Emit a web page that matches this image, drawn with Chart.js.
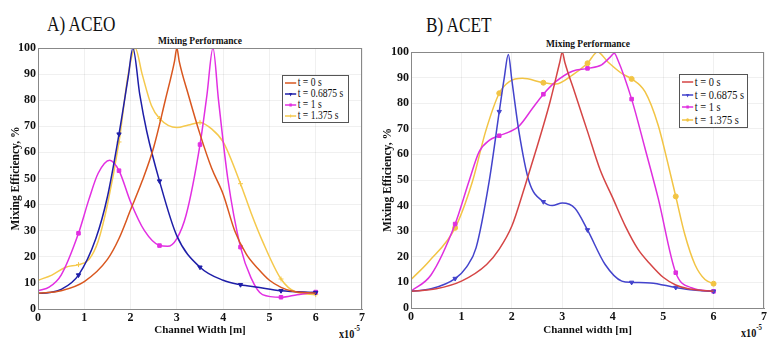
<!DOCTYPE html>
<html>
<head>
<meta charset="utf-8">
<script src="https://cdn.jsdelivr.net/npm/chart.js@4.4.0/dist/chart.umd.min.js"></script>
<style>
body{margin:0;background:#fff;width:778px;height:346px;position:relative;overflow:hidden;font-family:'Liberation Serif','Times New Roman',Times,serif;color:#111;}
.panel{position:absolute;top:0;height:346px;}
.tag{position:absolute;font-size:21px;white-space:nowrap;transform:scaleX(0.82);transform-origin:left top;}
.ptitle{position:absolute;font-size:11px;font-weight:bold;transform:translateX(-50%) scaleX(0.86);white-space:nowrap;}
.expo{position:absolute;font-size:12px;font-weight:bold;white-space:nowrap;transform:scaleX(0.85);transform-origin:left top;}
.expo sup{font-size:8px;position:relative;top:-2px;}
.legend{position:absolute;border:1px solid #555;background:#fff;padding:1px 3px 1px 2px;white-space:nowrap;overflow:visible;}
.legend .in{transform:scaleX(0.8);transform-origin:left top;width:max-content;}
.legend .row{display:flex;align-items:center;}
.legend svg{flex-shrink:0;margin-right:1px;}
</style>
</head>
<body>
<div class="tag" style="left:47px;top:12px;">A) ACEO</div>
<div class="tag" style="left:426px;top:13px;">B) ACET</div>
<div class="ptitle" style="left:200px;top:34px;">Mixing Performance</div>
<div class="ptitle" style="left:588px;top:37px;">Mixing Performance</div>
<div class="expo" style="left:339px;top:326px;">x10<sup>-5</sup></div>
<div class="expo" style="left:741px;top:325px;">x10<sup>-5</sup></div>

<div class="panel" style="left:0;width:389px;"><canvas id="aceo" width="389" height="346"></canvas></div>
<div class="panel" style="left:378px;width:400px;"><canvas id="acet" width="400" height="346"></canvas></div>
<div class="legend" id="legA" style="left:282px;top:75px;width:60px;font-size:12px;line-height:11px;"></div>
<div class="legend" id="legB" style="left:679px;top:74px;width:62px;font-size:13px;line-height:12.5px;"></div>

<script>
// series labels and marker positions
const labels = ['t = 0 s', 't = 0.6875 s', 't = 1 s', 't = 1.375 s'];
const markerX = [0.875, 1.75, 2.625, 3.5, 4.375, 5.25, 6];
const xTicks = [0, 1, 2, 3, 4, 5, 6, 7];
const yTicks = [0, 10, 20, 30, 40, 50, 60, 70, 80, 90, 100];

// A) ACEO
const aceoX0 = [0, 0.5, 1, 1.5, 1.75, 2, 2.25, 2.5, 2.75, 2.95, 3, 3.05, 3.25, 3.5, 3.75, 4, 4.25, 4.5, 4.75, 5, 5.25, 5.5, 6];
const aceoY0 = [6, 7, 10.5, 19, 27, 38, 49, 62, 80, 95, 100, 95, 82, 67, 54, 44, 30, 21, 15.5, 11, 8.3, 6.8, 6];
const aceoX1 = [0, 0.25, 0.5, 0.875, 1.25, 1.5, 1.75, 1.95, 2.05, 2.2, 2.35, 2.625, 3, 3.5, 4, 4.375, 4.75, 5.25, 6];
const aceoY1 = [6, 6.3, 7.5, 13, 27, 43, 67, 89, 100, 82, 68, 49, 28, 16, 11, 9.3, 8.3, 7, 6.3];
const aceoX2 = [0, 0.25, 0.5, 0.875, 1.1, 1.3, 1.55, 1.75, 2, 2.3, 2.625, 2.8, 3, 3.2, 3.5, 3.65, 3.78, 3.9, 4.1, 4.375, 4.6, 4.85, 5.25, 5.6, 6];
const aceoY2 = [7, 8.5, 13, 29, 42, 52, 57, 53, 41, 30, 24.3, 24, 27, 36, 63, 82, 100, 80, 50, 23.7, 12, 5.5, 4.5, 5.5, 6.5];
const aceoX3 = [0, 0.3, 0.6, 0.875, 1.1, 1.3, 1.5, 1.75, 1.95, 2.1, 2.25, 2.45, 2.625, 3, 3.25, 3.5, 3.75, 4, 4.375, 4.6, 4.85, 5.25, 5.57, 6];
const aceoY3 = [11, 13, 16, 17, 19, 26, 40, 64, 90, 100, 90, 78, 73, 69.5, 70.5, 71.5, 69, 64, 48, 37, 26, 11.5, 6.5, 5.5];

// B) ACET
const acetX0 = [0, 0.5, 1, 1.5, 1.75, 2, 2.25, 2.5, 2.75, 2.95, 3, 3.05, 3.25, 3.5, 3.75, 4, 4.25, 4.5, 4.75, 5, 5.25, 5.5, 6];
const acetY0 = [6.5, 7.5, 10.5, 17, 23, 32, 47, 63, 80, 96, 100, 96, 84, 69, 54, 43, 32, 23, 17, 12, 9, 7.5, 6.5];
const acetX1 = [0, 0.4, 0.875, 1.1, 1.29, 1.55, 1.75, 1.85, 1.93, 2, 2.14, 2.34, 2.625, 2.8, 3, 3.25, 3.5, 3.85, 4.18, 4.375, 4.75, 5.25, 5.6, 6];
const acetY1 = [6.5, 7.5, 11.5, 16, 23.5, 49.5, 76.7, 90, 99, 89, 69, 49.5, 41.5, 40, 41, 39, 30.5, 17, 10.5, 10, 9.8, 8, 7, 6.5];
const acetX2 = [0, 0.4, 0.875, 1.15, 1.35, 1.55, 1.75, 1.95, 2.14, 2.41, 2.625, 2.87, 3.2, 3.5, 3.78, 3.95, 4.03, 4.1, 4.375, 4.64, 4.9, 5.25, 5.56, 6];
const acetY2 = [6.6, 13, 32.8, 49.5, 61, 65.5, 67.3, 68.8, 71, 78, 83.5, 88.4, 92.5, 93.6, 95, 98, 99.5, 97, 81.6, 62.4, 43, 13.8, 7.9, 6.5];
const acetX3 = [0, 0.36, 0.875, 1.22, 1.48, 1.75, 1.95, 2.21, 2.625, 2.87, 3.2, 3.5, 3.7, 3.91, 4.18, 4.375, 4.64, 4.9, 5.1, 5.25, 5.43, 5.63, 5.83, 6];
const acetY3 = [11.1, 18.3, 31.3, 49.5, 69, 83.9, 88.4, 89.7, 88, 87.5, 91, 95.6, 100, 96, 91.6, 89.5, 84.5, 71.5, 56, 43.6, 28.7, 17, 11.1, 9.5];

Chart.defaults.font.family = "'Liberation Serif', 'Times New Roman', Times, serif";
Chart.defaults.color = '#111';

function pts(xs, ys) {
    return xs.map((x, i) => ({x: x, y: ys[i]}));
}

function isMarker(x) {
    return markerX.some(m => Math.abs(m - x) < 1e-6);
}

function line(label, xs, ys, color, style, rot) {
    return {
        label: label,
        data: pts(xs, ys),
        borderColor: color,
        backgroundColor: color,
        borderWidth: 1.5,
        cubicInterpolationMode: 'monotone',
        pointStyle: style || 'circle',
        pointRotation: rot || 0,
        pointRadius: c => (style && c.raw && isMarker(c.raw.x)) ? 2.5 : 0,
        pointBorderWidth: 1
    };
}

const frame = {
    id: 'frame',
    afterDraw(chart) {
        const a = chart.chartArea, ctx = chart.ctx;
        ctx.save();
        ctx.strokeStyle = '#888';
        ctx.lineWidth = 1;
        ctx.strokeRect(a.left + 0.5, a.top + 0.5, a.right - a.left - 1, a.bottom - a.top);
        ctx.restore();
    }
};

function makeChart(id, datasets, pad, yWidth, xHeight, xTitle, yTitlePad) {
    return new Chart(document.getElementById(id), {
        type: 'line',
        data: {datasets: datasets},
        options: {
            responsive: false,
            animation: false,
            layout: {padding: pad},
            plugins: {legend: {display: false}, tooltip: {enabled: false}},
            scales: {
                x: {
                    type: 'linear', min: 0, max: 7,
                    afterFit: s => { s.height = xHeight; },
                    afterBuildTicks: s => { s.ticks = xTicks.map(v => ({value: v})); },
                    grid: {color: 'rgba(0,0,0,0.06)', tickLength: 0},
                    border: {color: '#888'},
                    ticks: {font: {size: 12, weight: 'bold'}, padding: 2, maxRotation: 0},
                    title: {display: true, text: xTitle, font: {size: 11, weight: 'bold'}, padding: {top: 0, bottom: 9}}
                },
                y: {
                    min: 0, max: 100,
                    afterFit: s => { s.width = yWidth; },
                    afterBuildTicks: s => { s.ticks = yTicks.map(v => ({value: v})); },
                    grid: {color: 'rgba(0,0,0,0.06)', tickLength: 0},
                    border: {color: '#888'},
                    ticks: {font: {size: 12, weight: 'bold'}, padding: 2},
                    title: {display: true, text: 'Mixing Efficiency, %', font: {size: 11.5, weight: 'bold'}, padding: {top: yTitlePad, bottom: 0}}
                }
            }
        },
        plugins: [frame]
    });
}

// A) ACEO
const aceoColors = ['#d9571f', '#1e1ea8', '#e22fe2', '#f5c94c'];
const aceoSets = [
    line(labels[0], aceoX0, aceoY0, aceoColors[0], null),
    line(labels[1], aceoX1, aceoY1, aceoColors[1], 'triangle', 180),
    line(labels[2], aceoX2, aceoY2, aceoColors[2], 'rect'),
    line(labels[3], aceoX3, aceoY3, aceoColors[3], 'cross')
];
makeChart('aceo', aceoSets, {left: 0, right: 27, top: 48, bottom: 0}, 38, 37, 'Channel Width [m]', 9);

// B) ACET
const acetColors = ['#d54545', '#4343cc', '#df2fdf', '#f2c444'];
const acetSets = [
    line(labels[0], acetX0, acetY0, acetColors[0], null),
    line(labels[1], acetX1, acetY1, acetColors[1], 'triangle', 180),
    line(labels[2], acetX2, acetY2, acetColors[2], 'rect'),
    line(labels[3], acetX3, acetY3, acetColors[3], 'circle')
];
makeChart('acet', acetSets, {left: 0, right: 14, top: 52, bottom: 0}, 33, 38, 'Channel width [m]', 3);

// legends built from the same labels/colours
function marker(style, color) {
    if (style === 'triangle') return '<polygon points="5,4 9,4 7,7.5" fill="' + color + '"/>';
    if (style === 'rect') return '<rect x="5.5" y="3.5" width="3" height="3" fill="' + color + '"/>';
    if (style === 'circle') return '<circle cx="7" cy="5" r="1.8" fill="' + color + '"/>';
    if (style === 'cross') return '<path d="M7 3.5V6.5" stroke="' + color + '"/>';
    return '';
}
function buildLegend(id, sets, styles) {
    const el = document.getElementById(id);
    el.innerHTML = '<div class="in">' + sets.map((d, i) =>
        '<div class="row"><svg width="15" height="10"><line x1="0" y1="5" x2="14" y2="5" stroke="' + d.borderColor + '" stroke-width="1.5"/>' +
        marker(styles[i], d.borderColor) + '</svg>' + d.label + '</div>').join('') + '</div>';
}
buildLegend('legA', aceoSets, [null, 'triangle', 'rect', 'cross']);
buildLegend('legB', acetSets, [null, 'triangle', 'rect', 'circle']);
</script>
</body>
</html>
